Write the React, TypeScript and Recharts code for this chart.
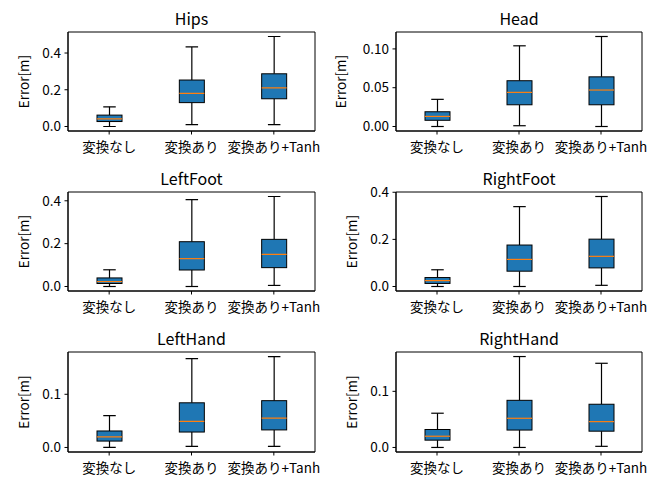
import { Bar, BarChart, ReferenceArea, XAxis, YAxis } from "recharts";

const categories = ["変換なし", "変換あり", "変換あり+Tanh"];

// five-number summaries per joint (whisker low, q1, median, q3, whisker high)
const hipsMin = [0.0, 0.01, 0.01];
const hipsQ1 = [0.027, 0.13, 0.151];
const hipsMed = [0.042, 0.18, 0.21];
const hipsQ3 = [0.062, 0.253, 0.287];
const hipsMax = [0.107, 0.433, 0.49];

const headMin = [0.0, 0.001, 0.0];
const headQ1 = [0.008, 0.028, 0.028];
const headMed = [0.013, 0.044, 0.047];
const headQ3 = [0.019, 0.059, 0.064];
const headMax = [0.035, 0.104, 0.116];

const lfootMin = [0.0, 0.0, 0.005];
const lfootQ1 = [0.014, 0.077, 0.088];
const lfootMed = [0.023, 0.13, 0.15];
const lfootQ3 = [0.04, 0.209, 0.22];
const lfootMax = [0.078, 0.405, 0.42];

const rfootMin = [0.0, 0.0, 0.005];
const rfootQ1 = [0.013, 0.065, 0.079];
const rfootMed = [0.025, 0.115, 0.128];
const rfootQ3 = [0.038, 0.176, 0.201];
const rfootMax = [0.071, 0.339, 0.382];

const lhandMin = [0.0, 0.002, 0.002];
const lhandQ1 = [0.012, 0.029, 0.033];
const lhandMed = [0.02, 0.049, 0.055];
const lhandQ3 = [0.031, 0.084, 0.088];
const lhandMax = [0.06, 0.167, 0.171];

const rhandMin = [0.0, 0.0, 0.002];
const rhandQ1 = [0.013, 0.031, 0.029];
const rhandMed = [0.02, 0.052, 0.046];
const rhandQ3 = [0.032, 0.084, 0.077];
const rhandMax = [0.061, 0.162, 0.15];

const ticks02 = [0, 0.2, 0.4];
const ticks005 = [0, 0.05, 0.1];
const ticks01 = [0, 0.1];

const panels = [
  { title: "Hips", min: hipsMin, q1: hipsQ1, med: hipsMed, q3: hipsQ3, max: hipsMax, ticks: ticks02, digits: 1 },
  { title: "Head", min: headMin, q1: headQ1, med: headMed, q3: headQ3, max: headMax, ticks: ticks005, digits: 2 },
  { title: "LeftFoot", min: lfootMin, q1: lfootQ1, med: lfootMed, q3: lfootQ3, max: lfootMax, ticks: ticks02, digits: 1 },
  { title: "RightFoot", min: rfootMin, q1: rfootQ1, med: rfootMed, q3: rfootQ3, max: rfootMax, ticks: ticks02, digits: 1 },
  { title: "LeftHand", min: lhandMin, q1: lhandQ1, med: lhandMed, q3: lhandQ3, max: lhandMax, ticks: ticks01, digits: 1 },
  { title: "RightHand", min: rhandMin, q1: rhandQ1, med: rhandMed, q3: rhandQ3, max: rhandMax, ticks: ticks01, digits: 1 },
];

const FONT = '"Noto Sans CJK JP", "Noto Sans", sans-serif';
const BLUE = "#1f77b4";
const ORANGE = "#ff7f0e";

// grid geometry (cell origin, plot box inside the cell)
const cellX = [0, 330];
const cellW = [330, 331];
const plotLeft = [68, 66];
const plotRight = [315, 312];
const cellY = [0, 160, 320];
const plotTop = 32;
const plotH = [99, 99, 100];
const xAxisH = 29;

function BoxShape(props: any) {
  const { x, y, width, height, payload } = props;
  const top = Math.min(y, y + height);
  const h = Math.abs(height);
  const { min, q1, med, q3, max } = payload;
  const px = (v: number) => top + ((max - v) / (max - min)) * h;
  const cx = x + width / 2;
  const cap = width / 4;
  return (
    <g>
      <line x1={cx} x2={cx} y1={px(max)} y2={px(q3)} stroke="#000" strokeWidth={1.2} />
      <line x1={cx} x2={cx} y1={px(q1)} y2={px(min)} stroke="#000" strokeWidth={1.2} />
      <line x1={cx - cap} x2={cx + cap} y1={px(max)} y2={px(max)} stroke="#000" strokeWidth={1.2} />
      <line x1={cx - cap} x2={cx + cap} y1={px(min)} y2={px(min)} stroke="#000" strokeWidth={1.2} />
      <rect x={x} y={px(q3)} width={width} height={px(q1) - px(q3)} fill={BLUE} stroke="#000" strokeWidth={1} />
      <line x1={x} x2={x + width} y1={px(med)} y2={px(med)} stroke={ORANGE} strokeWidth={1.2} />
    </g>
  );
}

function Panel({ p, col, row }: { p: (typeof panels)[number]; col: number; row: number }) {
  const data = categories.map((c, i) => ({
    name: c, range: [p.min[i], p.max[i]], min: p.min[i], q1: p.q1[i], med: p.med[i], q3: p.q3[i], max: p.max[i],
  }));
  const lo = Math.min(...p.min);
  const hi = Math.max(...p.max);
  const pad = (hi - lo) * 0.05;
  const h = plotTop + plotH[row] + xAxisH;
  const labelX = plotLeft[col] - (p.digits === 2 ? 56 : 45.5);
  return (
    <div style={{ position: "absolute", left: cellX[col], top: cellY[row], width: cellW[col], height: h }}>
      <BarChart width={cellW[col]} height={h} data={data}
        margin={{ top: plotTop, right: cellW[col] - plotRight[col], left: 0, bottom: 0 }}>
        <XAxis dataKey="name" type="category" height={xAxisH} tickSize={3.5} tickMargin={7.5}
          stroke="#000" tick={{ fill: "#000", fontSize: 13.5, fontFamily: FONT }} interval={0} />
        <YAxis type="number" domain={[lo - pad, hi + pad]} allowDataOverflow ticks={p.ticks}
          width={plotLeft[col]} tickSize={3.5} tickMargin={3.5} stroke="#000"
          tick={{ fill: "#000", fontSize: 13.5, fontFamily: FONT }}
          tickFormatter={(v: number) => v.toFixed(p.digits)}
          label={{
            content: (lp: any) => {
              const vb = lp.viewBox;
              const ly = vb.y + vb.height / 2;
              const lx = vb.x + labelX;
              return (
                <text x={lx} y={ly} transform={`rotate(-90 ${lx} ${ly})`} textAnchor="middle"
                  dominantBaseline="central" fontSize={13.5} fontFamily={FONT} fill="#000">Error[m]</text>
              );
            },
          }} />
        <ReferenceArea y1={lo - pad} y2={hi + pad} fill="none" fillOpacity={0} stroke="#000" strokeWidth={1}
          ifOverflow="visible"
          label={{
            content: (lp: any) => {
              const vb = lp.viewBox;
              return (
                <text x={vb.x + vb.width / 2} y={vb.y - 7} textAnchor="middle" fontSize={16}
                  fontFamily={FONT} fontWeight={400} fill="#000">{p.title}</text>
              );
            },
          }} />
        <Bar dataKey="range" barSize={25} isAnimationActive={false} shape={BoxShape} />
      </BarChart>
    </div>
  );
}

export default function App() {
  return (
    <div style={{ position: "absolute", left: 0, top: 0, width: 661, height: 478, background: "#fff" }}>
      {panels.map((p, i) => (
        <Panel key={p.title} p={p} col={i % 2} row={Math.floor(i / 2)} />
      ))}
    </div>
  );
}
